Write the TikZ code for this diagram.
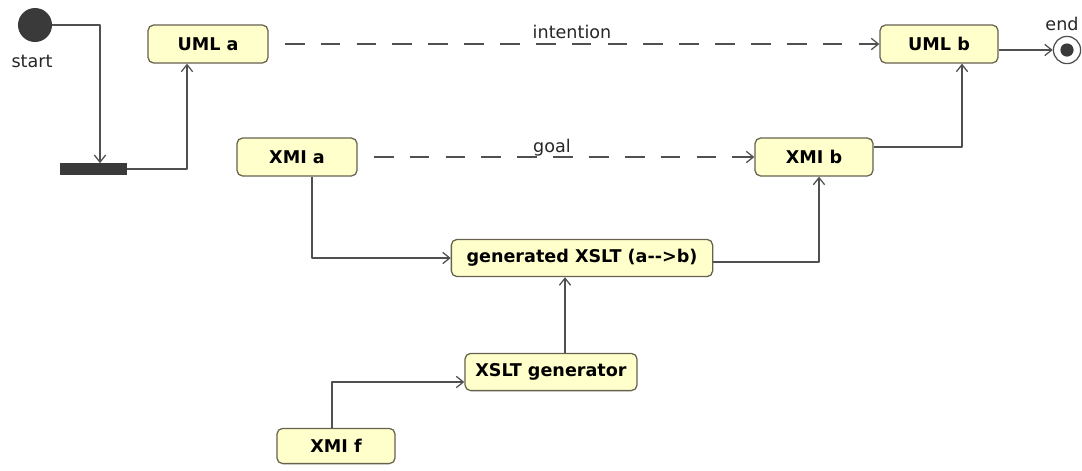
\documentclass[tikz,border=0pt]{standalone}
\usepackage{fontspec}
\setmainfont{DejaVu Sans}
\usetikzlibrary{arrows.meta,calc}
\definecolor{boxfill}{HTML}{FFFFCC}
\definecolor{boxline}{HTML}{66624F}
\definecolor{wire}{HTML}{505050}
\definecolor{blob}{HTML}{3A3A3A}

\begin{document}
\begin{tikzpicture}[x=0.025cm, y=-0.025cm, line join=round,
    state/.style={draw=boxline, fill=boxfill, line width=0.9pt, rounded corners=4pt,
      inner sep=0pt, minimum height=0.95cm, font=\bfseries\fontsize{12.5}{14}\selectfont},
    flow/.style={draw=wire, line width=0.9pt, -{Straight Barb[length=5pt,width=8pt]}},
    wish/.style={flow, dash pattern=on 14pt off 11.5pt, dash phase=14pt},
    lbl/.style={anchor=base, inner sep=0pt, text=black!85, font=\fontsize{12.5}{14}\selectfont}]
  \useasboundingbox (0,0) rectangle (1082,470);

  % start, fork and end
  \node[circle, fill=blob, minimum size=0.85cm, inner sep=0pt] (start) at (35,25) {};
  \node[lbl] (startlbl) at (32,67) {start};
  \node[fill=blob, minimum width=1.68cm, minimum height=0.28cm, inner sep=0pt] (fork) at (93.5,169) {};
  \node[circle, draw=wire, fill=white, line width=0.9pt, minimum size=0.68cm, inner sep=0pt] (end) at (1067,50) {};
  \node[circle, fill=blob, minimum size=0.33cm, inner sep=0pt] (enddot) at (end) {};
  \node[lbl] (endlbl) at (1062,30) {end};

  % states
  \node[state, minimum width=3cm] (umla) at (208,44) {UML a};
  \node[state, minimum width=2.95cm] (umlb) at (939,44) {UML b};
  \node[state, minimum width=3cm] (xmia) at (297,157) {XMI a};
  \node[state, minimum width=2.95cm] (xmib) at (814,157) {XMI b};
  \node[state, minimum width=6.53cm, minimum height=0.93cm] (gen) at (582,258) {generated XSLT (a-{}->b)};
  \node[state, minimum width=4.3cm, minimum height=0.93cm] (gener) at (551,372) {XSLT generator};
  \node[state, minimum width=2.95cm, minimum height=0.88cm] (xmif) at (336,446) {XMI f};

  % flows
  \draw[flow] (start.east) -| ($(fork.north)+(6.5,0)$);
  \draw[flow] (fork.east) -| ($(umla.south)+(-21,0)$);
  \draw[flow] (umlb.east |- end) -- (end);
  \draw[wish] (umla.east) -- (umlb.west);
  \node[lbl] (intention) at (572,38) {intention};
  \draw[wish] (xmia.east) -- (xmib.west);
  \node[lbl] (goal) at (552,152) {goal};
  \draw[flow] ($(xmib.east)+(0,-10)$) -| ($(umlb.south)+(23,0)$);
  \draw[flow] ($(xmia.south)+(15,0)$) |- (gen.west);
  \draw[flow] ($(gen.east)+(0,4)$) -| ($(xmib.south)+(5,0)$);
  \coordinate (g1) at ($(gener.north)+(14,0)$);
  \draw[flow] (g1) -- (g1 |- gen.south);
  \draw[flow] ($(xmif.north)+(-4,0)$) |- ($(gener.west)+(0,10)$);
\end{tikzpicture}
\end{document}
